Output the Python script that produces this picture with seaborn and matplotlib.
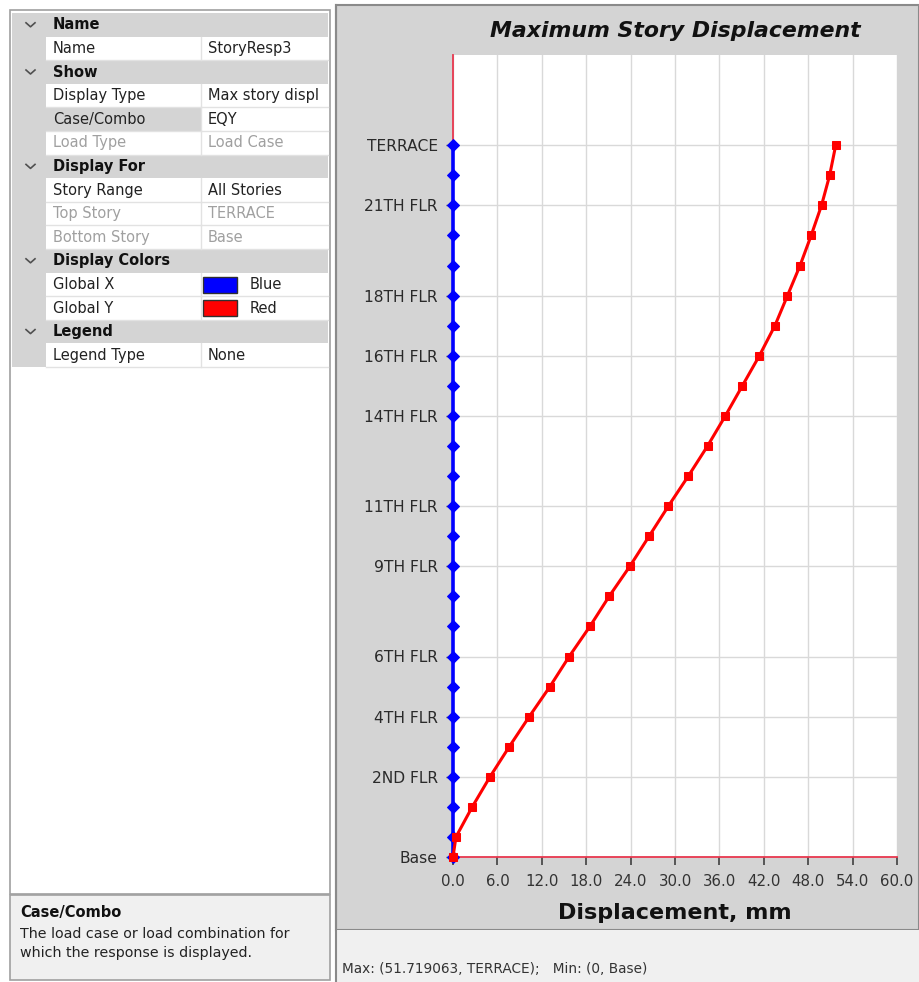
import matplotlib
matplotlib.use("Agg")
import matplotlib.pyplot as plt
from matplotlib.patches import Rectangle
import pandas as pd
import seaborn as sns

# ---- data ----
stories = ["Base", "PLINTH", "1ST FLR", "2ND FLR", "3RD FLR", "4TH FLR", "5TH FLR",
           "6TH FLR", "7TH FLR", "8TH FLR", "9TH FLR", "10TH FLR", "11TH FLR",
           "12TH FLR", "13TH FLR", "14TH FLR", "15TH FLR", "16TH FLR", "17TH FLR",
           "18TH FLR", "19TH FLR", "20TH FLR", "21TH FLR", "22ND FLR", "TERRACE"]
elevation_m = [0, 2, 5, 8, 11, 14, 17, 20, 23, 26, 29, 32, 35, 38, 41, 44, 47,
               50, 53, 56, 59, 62, 65, 68, 71]
disp_global_x = [0.0, 0.0, 0.0, 0.0, 0.0, 0.0, 0.0, 0.0, 0.0, 0.0, 0.0, 0.0, 0.0,
                 0.0, 0.0, 0.0, 0.0, 0.0, 0.0, 0.0, 0.0, 0.0, 0.0, 0.0, 0.0]
disp_global_y = [0.0, 0.4, 2.6, 5.0, 7.6, 10.3, 13.1, 15.7, 18.5, 21.1, 23.9, 26.5,
                 29.1, 31.8, 34.4, 36.8, 39.1, 41.4, 43.5, 45.2, 46.9, 48.4, 49.8,
                 50.9, 51.719063]
shown_stories = ["Base", "2ND FLR", "4TH FLR", "6TH FLR", "9TH FLR", "11TH FLR",
                 "14TH FLR", "16TH FLR", "18TH FLR", "21TH FLR", "TERRACE"]
x_ticks = [0, 6, 12, 18, 24, 30, 36, 42, 48, 54, 60]

# property grid rows: (kind, name, value)
grid_rows = [("h", "Name", ""), ("p", "Name", "StoryResp3"),
             ("h", "Show", ""), ("p", "Display Type", "Max story displ"),
             ("s", "Case/Combo", "EQY"), ("d", "Load Type", "Load Case"),
             ("h", "Display For", ""), ("p", "Story Range", "All Stories"),
             ("d", "Top Story", "TERRACE"), ("d", "Bottom Story", "Base"),
             ("h", "Display Colors", ""), ("c", "Global X", "Blue"),
             ("c", "Global Y", "Red"), ("h", "Legend", ""),
             ("p", "Legend Type", "None")]
swatch = {"Blue": "#0000ff", "Red": "#ff0000"}

plt.rcParams['font.family'] = ['DejaVu Sans']

W, H = 919, 982
fig = plt.figure(figsize=(W / 100, H / 100), dpi=100, facecolor='white')

# background canvas in pixel coordinates
bg = fig.add_axes([0, 0, 1, 1], zorder=0)
bg.set_xlim(0, W)
bg.set_ylim(H, 0)
bg.axis('off')

GRAY = '#d4d4d4'
# left property panel
bg.add_patch(Rectangle((10, 10), 320, 884, fc='white', ec='#a0a0a0', lw=1.2))
top, rh = 13, 23.6
for i, (kind, name, value) in enumerate(grid_rows):
    y0 = top + i * rh
    yc = y0 + rh / 2
    if kind == "h":
        bg.add_patch(Rectangle((12, y0), 316, rh, fc=GRAY, ec='none'))
        bg.plot([26, 30.5, 35], [yc - 2, yc + 2, yc - 2], color='#505050', lw=1.2)
        bg.text(53, yc, name, fontsize=10.5, fontweight='bold', va='center',
                color='#111111')
        continue
    bg.add_patch(Rectangle((12, y0), 34, rh, fc=GRAY, ec='none'))
    bg.add_patch(Rectangle((46, y0), 155, rh, fc=GRAY if kind == "s" else 'white',
                           ec='none'))
    bg.plot([46, 328], [y0 + rh, y0 + rh], color='#e2e2e2', lw=1)
    bg.plot([201, 201], [y0, y0 + rh], color='#e2e2e2', lw=1)
    tc = '#a0a0a0' if kind == "d" else '#222222'
    bg.text(53, yc, name, fontsize=10.5, va='center', color=tc)
    if kind == "c":
        bg.add_patch(Rectangle((203, y0 + 4), 34, 16, fc=swatch[value], ec='#303030',
                               lw=1))
        bg.text(250, yc, value, fontsize=10.5, va='center', color=tc)
    else:
        bg.text(208, yc, value, fontsize=10.5, va='center', color=tc)

# description box
bg.add_patch(Rectangle((10, 895), 320, 85, fc='#f0f0f0', ec='#a0a0a0', lw=1.2))
bg.text(20, 912, "Case/Combo", fontsize=10.5, fontweight='bold', va='center',
        color='#111111')
bg.text(20, 934, "The load case or load combination for", fontsize=10.3,
        va='center', color='#222222')
bg.text(20, 953, "which the response is displayed.", fontsize=10.3,
        va='center', color='#222222')

# right chart panel
bg.add_patch(Rectangle((336, 5), 583, 925, fc=GRAY, ec='#8a8a8a', lw=1.5))
bg.add_patch(Rectangle((336, 930), 583, 52, fc='#f0f0f0', ec='none'))
bg.plot([336, 336], [5, 982], color='#8a8a8a', lw=1.5)
bg.text(342, 969, "Max: (51.719063, TERRACE);   Min: (0, Base)", fontsize=9.8,
        va='center', color='#333333')

# ---- the chart ----
x0, x1, y_top, y_bot = 453, 897, 55, 857
ax = fig.add_axes([x0 / W, (H - y_bot) / H, (x1 - x0) / W, (y_bot - y_top) / H],
                  zorder=2)
ax.set_facecolor('white')

df = pd.DataFrame({"story": stories, "elev": elevation_m,
                   "gx": disp_global_x, "gy": disp_global_y})

sns.lineplot(data=df, x="gx", y="elev", orient="y", sort=False, color='#0000ff',
             lw=2.6, marker='D', markersize=6, markeredgecolor='#0000ff',
             ax=ax, zorder=3, clip_on=False)
sns.lineplot(data=df, x="gy", y="elev", orient="y", sort=False, color='#ff0000',
             lw=2.2, marker='s', markersize=6.2, markeredgecolor='#ff0000',
             ax=ax, zorder=4, clip_on=False)

ax.set_xlim(0, 60)
ax.set_ylim(0, 80)
ax.set_xticks(x_ticks)
ax.set_xticklabels([f"{v:.1f}" for v in x_ticks])
ytick_pos = [elevation_m[stories.index(s)] for s in shown_stories]
ax.set_yticks(ytick_pos)
ax.set_yticklabels(shown_stories)
ax.grid(True, color='#d9d9d9', lw=1)
ax.set_axisbelow(True)

for side in ["top", "right"]:
    ax.spines[side].set_visible(False)
for side in ["left", "bottom"]:
    ax.spines[side].set_color('#e8384f')
    ax.spines[side].set_linewidth(1.3)

ax.tick_params(axis='x', length=6, width=1.2, color='#404040', pad=6,
               labelsize=10.8, labelcolor='#333333')
ax.tick_params(axis='y', length=5, width=1, color='#404040', pad=6,
               labelsize=11.2, labelcolor='#2a2a2a')

ax.set_xlabel("Displacement, mm", fontsize=16, fontweight='bold',
              color='#111111', labelpad=10)
ax.set_ylabel("")
ax.set_title("Maximum Story Displacement", fontsize=15.8, fontweight='bold',
             fontstyle='italic', color='#111111', pad=13)

fig.savefig("out.png", dpi=100, facecolor=fig.get_facecolor())
